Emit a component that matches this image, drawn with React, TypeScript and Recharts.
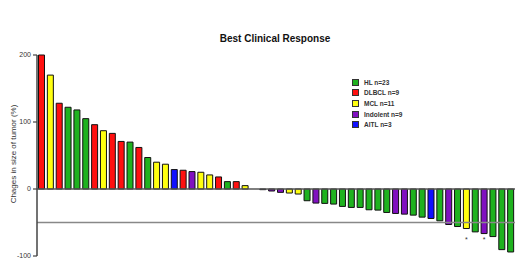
import React from 'react'
import { ComposedChart, Bar, Cell, Scatter, XAxis, YAxis, ReferenceLine } from 'recharts'

// best response per patient, sorted high to low (% change in tumor size)
const values = [
  200, 170, 128, 122, 118, 105, 96, 87, 83, 71, 70, 62, 47, 40, 37, 29, 28, 26, 25, 21, 18, 11, 11, 5,
  0, -1, -3, -5, -6, -7.5,
  -17.5, -21, -21.5, -22.5, -26, -27.5, -27.5, -31, -31.5, -35, -36.5, -37.5, -39, -42, -44, -47.5,
  -53, -56, -59, -64, -66.5, -71, -90.5, -94,
]

const types = [
  'DLBCL', 'MCL', 'DLBCL', 'HL', 'HL', 'HL', 'DLBCL', 'MCL', 'DLBCL', 'DLBCL', 'HL', 'DLBCL', 'HL', 'MCL', 'MCL', 'AITL',
  'DLBCL', 'Indolent', 'MCL', 'MCL', 'DLBCL', 'HL', 'DLBCL', 'MCL',
  'MCL', 'AITL', 'Indolent', 'Indolent', 'MCL', 'MCL',
  'HL', 'Indolent', 'HL', 'HL', 'HL', 'HL', 'HL', 'HL', 'HL', 'HL', 'Indolent', 'Indolent', 'HL', 'HL', 'AITL', 'HL',
  'Indolent', 'HL', 'MCL', 'HL', 'Indolent', 'HL', 'HL', 'HL',
]

// patients marked with an asterisk below the bar
const starred = [48, 50]
const starLevel = -74

const groups = ['HL', 'DLBCL', 'MCL', 'Indolent', 'AITL']
const groupLabels = ['HL n=23', 'DLBCL n=9', 'MCL n=11', 'Indolent n=9', 'AITL n=3']
const groupColors: Record<string, string> = {
  HL: '#1fb21f',
  DLBCL: '#ff1010',
  MCL: '#ffff10',
  Indolent: '#8010c0',
  AITL: '#1010ff',
}

const yTicks = [-100, 0, 100, 200]

const data = values.map((v, i) => ({
  id: String(i + 1),
  value: v,
  type: types[i],
  star: starred.includes(i) ? starLevel : null,
}))

const font = 'Arial, "Liberation Sans", sans-serif'

function LegendBox() {
  return (
    <div style={{ position: 'absolute', top: 77, left: 352, fontFamily: font, fontSize: '6.5px', color: '#333', fontWeight: 'bold' }}>
      {groups.map((g, i) => (
        <div key={g} style={{ display: 'flex', alignItems: 'center', height: '10.6px' }}>
          <div style={{ width: '5px', height: '5px', background: groupColors[g], border: '0.8px solid #333', marginRight: '5px' }} />
          <span>{groupLabels[i]}</span>
        </div>
      ))}
    </div>
  )
}

const Star = (props: any) => {
  if (props.cx == null || props.cy == null) return null
  return (
    <text x={props.cx} y={props.cy + 3} textAnchor="middle" fontSize={7} fill="#333" fontFamily={font}>*</text>
  )
}

export default function App() {
  return (
    <div style={{ position: 'absolute', left: 0, top: 0, width: 520, height: 262, background: '#fff' }}>
      <div style={{ position: 'absolute', left: 0, width: 550, top: 33, textAlign: 'center', fontFamily: font, fontSize: '10px', fontWeight: 'bold', color: '#111' }}>
        Best Clinical Response
      </div>
      <div style={{ position: 'absolute', left: 12.5, top: 154, width: 0, height: 0 }}>
        <div style={{ position: 'absolute', transform: 'translate(-50%, -50%) rotate(-90deg)', whiteSpace: 'nowrap', fontFamily: font, fontSize: '8px', color: '#333' }}>
          Chages in size of tumor (%)
        </div>
      </div>
      <ComposedChart width={520} height={262} data={data} margin={{ top: 55, right: 5, bottom: 6, left: 10 }} barCategoryGap="17%">
        <XAxis dataKey="id" hide />
        <YAxis
          domain={[-100, 200]}
          ticks={yTicks}
          width={27}
          tickSize={4}
          tick={{ fontSize: 7, fill: '#333', fontFamily: font }}
          axisLine={{ stroke: '#444', strokeWidth: 1.5 }}
          tickLine={{ stroke: '#444', strokeWidth: 1.2 }}
        />
        <ReferenceLine y={-50} stroke="#888" strokeWidth={1.5} />
        <ReferenceLine y={0} stroke="#555" strokeWidth={1.5} />
        <Bar dataKey="value" stroke="#111" strokeWidth={1} isAnimationActive={false}>
          {data.map(d => (
            <Cell key={d.id} fill={groupColors[d.type]} />
          ))}
        </Bar>
        <Scatter dataKey="star" shape={Star} isAnimationActive={false} />
      </ComposedChart>
      <LegendBox />
    </div>
  )
}
